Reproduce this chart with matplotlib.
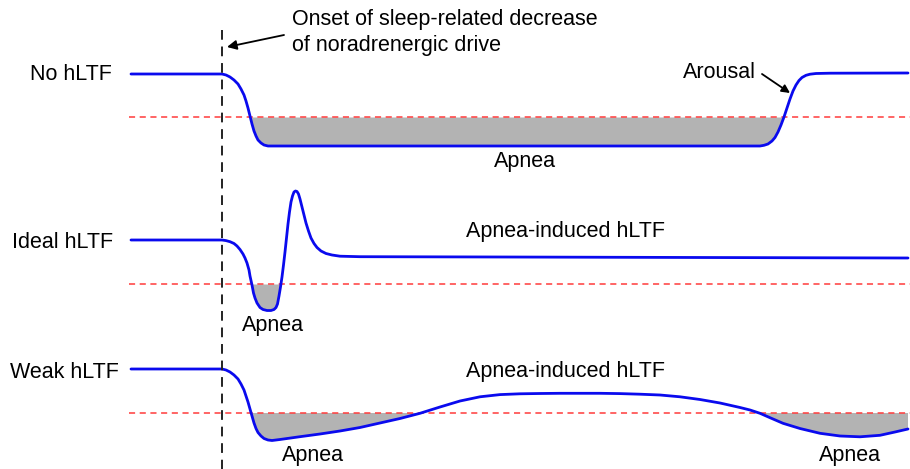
import numpy as np
import matplotlib
matplotlib.use("Agg")
import matplotlib.pyplot as plt

plt.rcParams['font.family'] = ['Liberation Sans', 'DejaVu Sans']

# ---- data (time, drive), in picture units ----
no_x = [131, 222, 226, 230, 234, 238, 241, 244, 246, 248, 250, 252, 254, 256, 258, 261,
        264, 268, 274, 760, 764, 768, 772, 775, 778, 781, 784, 787, 790, 793, 796,
        799, 802, 806, 810, 816, 830, 908]
no_y = [74, 74, 75, 77, 80, 84, 89, 95, 101, 108, 116, 124, 131, 136, 140, 143,
        145, 146, 146, 146, 145.3, 144, 141, 137.5, 132, 125, 117, 108, 99, 91, 85,
        80.5, 77.5, 75.3, 74.2, 73.5, 73.2, 73]

ideal_x = [131, 222, 226, 230, 234, 237, 240, 243, 245, 247, 249, 250, 252, 253.5, 255,
           257, 260, 263, 267, 271, 274, 276, 277.5, 279, 280.5, 282, 283.5, 285, 286.5,
           288, 289.5, 291, 292.5, 294, 295.5, 297, 298.5, 300, 302, 304, 306, 308.5,
           311, 314, 317, 321, 326, 332, 340, 360, 500, 700, 908]
ideal_y = [240, 240, 240.6, 241.7, 243.5, 246, 249.5, 254, 258, 263, 270, 276, 285, 293, 298,
           303, 307.5, 309.5, 310.5, 310.5, 309.5, 307.5, 304, 296, 287, 277, 265, 252, 238,
           224, 212, 202, 196, 192, 191, 191.5, 194, 199, 207, 215, 223, 231,
           238, 243.5, 247.5, 251, 253.5, 255, 256.2, 256.7, 257, 257.5, 258]

weak_x = [131, 222, 226, 230, 234, 238, 241, 244, 246, 248, 250, 252, 254, 256, 258, 261,
          264, 268, 272, 280, 300, 320, 340, 360, 380, 400, 420, 440, 460,
          480, 500, 520, 540, 560, 580, 600, 620, 640, 660, 680, 700, 720, 740, 750,
          760, 770, 783, 800, 820, 840, 860, 880, 895, 908]
weak_y = [369, 369, 370, 372, 375, 379, 384, 390, 396, 402, 409, 416, 423, 428.5, 432.5, 436,
          438.5, 440, 440.5, 439.5, 436.7, 434, 431, 427.5, 423, 418.5, 413.3, 407, 401,
          396.8, 394.6, 393.8, 393.5, 393.3, 393.3, 393.3, 393.6, 394.2, 395, 396.8, 399.5, 403, 407.5, 410,
          413.3, 417.7, 423.3, 428.5, 433.3, 436, 436.8, 435.3, 432, 429]

thresholds = [117, 284, 413]
onset_time = 222
row_labels = ["No hLTF", "Ideal hLTF", "Weak hLTF"]

blue = "#0a0aee"
red = "#ff3b3b"
gray = "#b3b3b3"
fs = 15.5

fig = plt.figure(figsize=(9.10, 4.69), dpi=100)
ax = fig.add_axes([0, 0, 1, 1])
ax.set_xlim(0, 910)
ax.set_ylim(469, 0)
ax.axis("off")

curves = [(no_x, no_y), (ideal_x, ideal_y), (weak_x, weak_y)]
for (cx, cy), th in zip(curves, thresholds):
    cx = np.asarray(cx, float)
    cy = np.asarray(cy, float)
    ax.fill_between(cx, cy, th, where=cy >= th, interpolate=True,
                    color=gray, lw=0, zorder=1)
    ax.plot([129, 910], [th, th], color=red, lw=1.1, ls=(0, (4, 3)), zorder=2)
    ax.plot(cx, cy, color=blue, lw=2.0, solid_capstyle="round",
            solid_joinstyle="round", zorder=3)

# onset vertical dashed line
ax.plot([onset_time, onset_time], [30, 469], color="#222222", lw=1.4,
        ls=(0, (5, 3.5)), zorder=4)

# row labels
ax.text(30, 74, row_labels[0], fontsize=fs, ha="left", va="center")
ax.text(12, 242, row_labels[1], fontsize=fs, ha="left", va="center")
ax.text(10, 372, row_labels[2], fontsize=fs, ha="left", va="center")

# annotations
ax.text(292, 20, "Onset of sleep-related decrease", fontsize=fs, ha="left", va="center")
ax.text(292, 46, "of noradrenergic drive", fontsize=fs, ha="left", va="center")
ax.annotate("", xy=(227, 47), xytext=(284, 35),
            arrowprops=dict(arrowstyle="-|>", color="black", lw=1.3,
                            mutation_scale=14, shrinkA=0, shrinkB=0))
ax.text(719, 72, "Arousal", fontsize=fs, ha="center", va="center")
ax.annotate("", xy=(790, 93), xytext=(762, 74),
            arrowprops=dict(arrowstyle="-|>", color="black", lw=1.3,
                            mutation_scale=12, shrinkA=0, shrinkB=0))

ax.text(525, 162, "Apnea", fontsize=fs, ha="center", va="center")
ax.text(273, 325, "Apnea", fontsize=fs, ha="center", va="center")
ax.text(313, 455, "Apnea", fontsize=fs, ha="center", va="center")
ax.text(850, 455, "Apnea", fontsize=fs, ha="center", va="center")
ax.text(566, 232, "Apnea-induced hLTF", fontsize=fs, ha="center", va="center")
ax.text(566, 372, "Apnea-induced hLTF", fontsize=fs, ha="center", va="center")

fig.savefig("out.png", dpi=100)
